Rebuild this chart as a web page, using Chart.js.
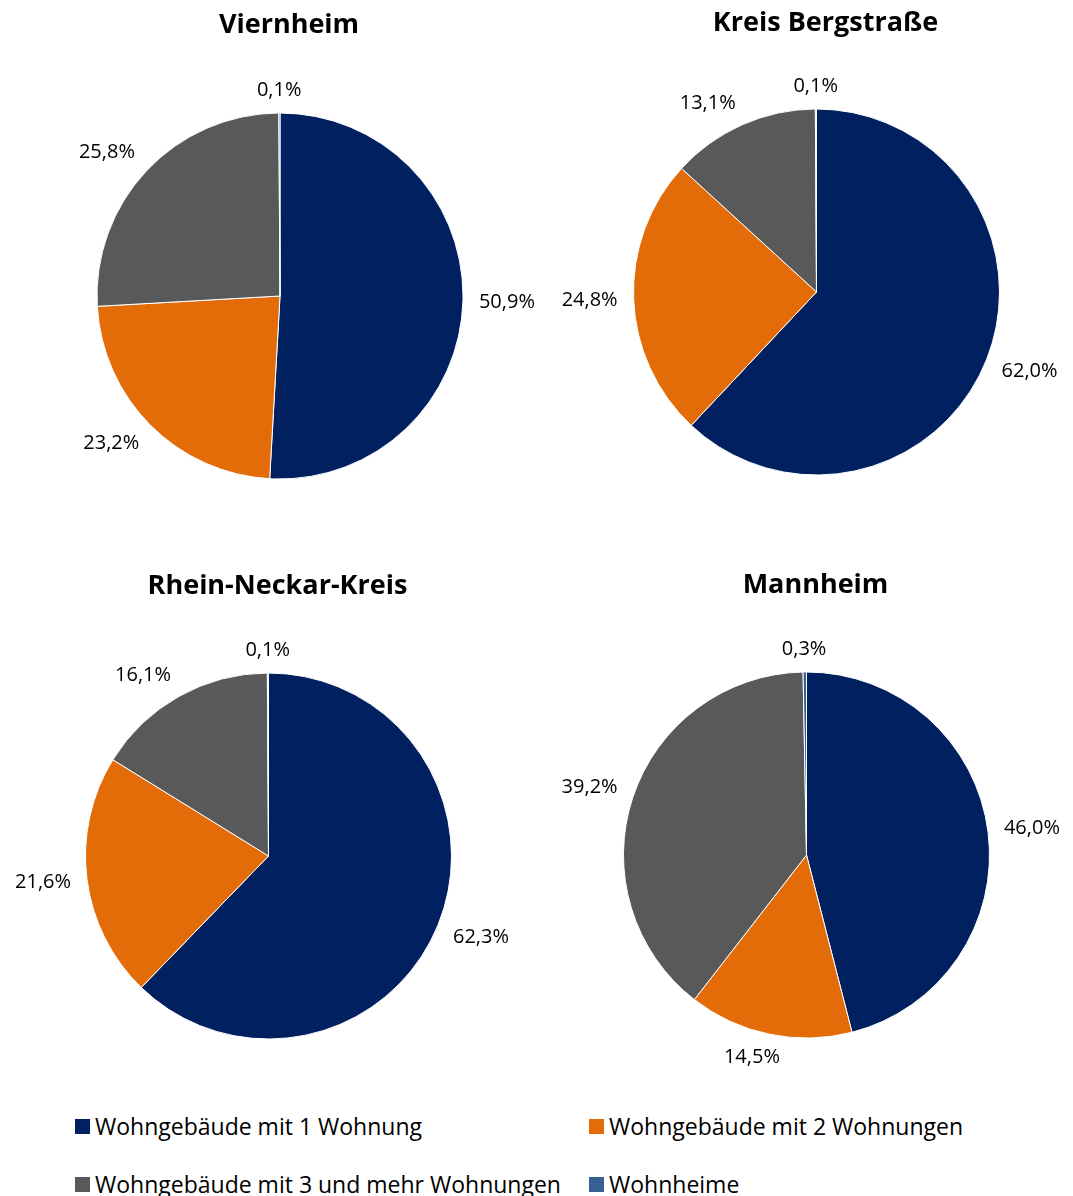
<!DOCTYPE html>
<html>
<head>
<meta charset="utf-8">
<script src="https://cdn.jsdelivr.net/npm/chart.js@4/dist/chart.umd.min.js"></script>
<style>
  html, body { margin: 0; padding: 0; background: #fff; }
  #wrap { position: relative; width: 1073px; height: 1196px; overflow: hidden; font-family: "Open Sans", sans-serif; }
  .panel { position: absolute; }
  .legend-item { position: absolute; display: flex; align-items: center; font-size: 23px; color: #000; white-space: nowrap; letter-spacing: 0px; }
  .legend-item .sw { width: 15px; height: 15px; margin-right: 5px; flex: none; }
</style>
</head>
<body>
<div id="wrap">
  <div class="panel" style="left:0;top:0;width:536px;height:560px"><canvas id="c0"></canvas></div>
  <div class="panel" style="left:536px;top:0;width:537px;height:560px"><canvas id="c1"></canvas></div>
  <div class="panel" style="left:0;top:560px;width:536px;height:540px"><canvas id="c2"></canvas></div>
  <div class="panel" style="left:536px;top:560px;width:537px;height:540px"><canvas id="c3"></canvas></div>
  <div id="legend"></div>
</div>
<script>
// ---- Data ----
const categories = [
  "Wohngebäude mit 1 Wohnung",
  "Wohngebäude mit 2 Wohnungen",
  "Wohngebäude mit 3 und mehr Wohnungen",
  "Wohnheime"
];
const regions = ["Viernheim", "Kreis Bergstraße", "Rhein-Neckar-Kreis", "Mannheim"];
const viernheim = [50.9, 23.2, 25.8, 0.1];
const kreisBergstrasse = [62.0, 24.8, 13.1, 0.1];
const rheinNeckarKreis = [62.3, 21.6, 16.1, 0.1];
const mannheim = [46.0, 14.5, 39.2, 0.3];
const colors = ["#002060", "#E36C09", "#595959", "#376092"];

const seriesList = [viernheim, kreisBergstrasse, rheinNeckarKreis, mannheim];

// ---- Layout (pie centres within each panel) ----
const panelSizes = [[536, 560], [537, 560], [536, 540], [537, 540]];
const pieCenters = [[280, 296], [280.5, 292], [268.5, 296], [270.5, 295]];
const titleY = [25, 23, 26, 25];
const pieRadius = 183;

const fmt = v => v.toFixed(1).replace('.', ',') + '%';

const outsideLabels = {
  id: 'outsideLabels',
  afterDatasetsDraw(chart) {
    const ctx = chart.ctx;
    const meta = chart.getDatasetMeta(0);
    const data = chart.data.datasets[0].data;
    ctx.save();
    ctx.font = '20px "Open Sans", sans-serif';
    ctx.fillStyle = '#000';
    ctx.textAlign = 'center';
    ctx.textBaseline = 'middle';
    meta.data.forEach((arc, i) => {
      const p = arc.getProps(['x', 'y', 'startAngle', 'endAngle', 'outerRadius'], true);
      const mid = (p.startAngle + p.endAngle) / 2;
      const txt = fmt(data[i]);
      const hw = ctx.measureText(txt).width / 2;
      const hh = 7;
      const c = Math.cos(mid), s = Math.sin(mid);
      const d = p.outerRadius + 16;
      const k = 2.5;
      const fx = Math.sign(c) * Math.min(1, Math.abs(c) * k);
      const fy = Math.sign(s) * Math.min(1, Math.abs(s) * k);
      ctx.fillText(txt, p.x + c * d + fx * hw, p.y + s * d + fy * hh);
    });
    ctx.restore();
  }
};

const panelTitle = {
  id: 'panelTitle',
  afterDraw(chart, args, opts) {
    const ctx = chart.ctx;
    const a = chart.chartArea;
    ctx.save();
    ctx.font = 'bold 27px "Open Sans", sans-serif';
    ctx.fillStyle = '#000';
    ctx.textAlign = 'center';
    ctx.textBaseline = 'middle';
    ctx.fillText(opts.text, (a.left + a.right) / 2 + 9, opts.y);
    ctx.restore();
  }
};

seriesList.forEach((vals, k) => {
  const [w, h] = panelSizes[k];
  const [cx, cy] = pieCenters[k];
  const halfW = Math.min(cx, w - cx);
  const halfH = Math.min(cy, h - cy);
  const canvas = document.getElementById('c' + k);
  canvas.width = w; canvas.height = h;
  new Chart(canvas, {
    type: 'pie',
    data: {
      labels: categories,
      datasets: [{
        data: vals,
        backgroundColor: colors,
        borderColor: '#ffffff',
        borderWidth: 1,
        radius: pieRadius
      }]
    },
    options: {
      responsive: false,
      animation: false,
      layout: {
        padding: {
          left: cx - halfW,
          right: w - cx - halfW,
          top: cy - halfH,
          bottom: h - cy - halfH
        }
      },
      plugins: {
        legend: { display: false },
        tooltip: { enabled: false },
        title: { display: false },
        panelTitle: { text: regions[k], y: titleY[k] }
      }
    },
    plugins: [outsideLabels, panelTitle]
  });
});

// ---- Legend ----
const legendPos = [[75, 1127], [589, 1127], [75, 1185], [589, 1185]];
const legendEl = document.getElementById('legend');
categories.forEach((name, i) => {
  const item = document.createElement('div');
  item.className = 'legend-item';
  item.style.left = legendPos[i][0] + 'px';
  item.style.top = (legendPos[i][1] - 17) + 'px';
  item.style.height = '32px';
  const sw = document.createElement('span');
  sw.className = 'sw';
  sw.style.background = colors[i];
  const tx = document.createElement('span');
  tx.textContent = name;
  item.appendChild(sw);
  item.appendChild(tx);
  legendEl.appendChild(item);
});
</script>
</body>
</html>
